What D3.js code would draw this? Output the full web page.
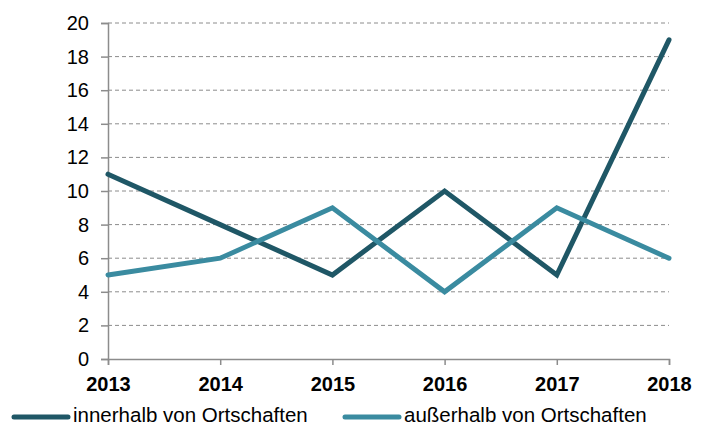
<!DOCTYPE html>
<html>
<head>
<meta charset="utf-8">
<script src="https://cdn.jsdelivr.net/npm/d3@7"></script>
<style>
  body { margin: 0; background: #fff; }
  svg { font-family: "Liberation Sans", Arial, sans-serif; }
</style>
</head>
<body>
<div id="chart"></div>
<script>
var years = ['2013', '2014', '2015', '2016', '2017', '2018'];
var innerhalb = [11, 8, 5, 10, 5, 19];
var ausserhalb = [5, 6, 9, 4, 9, 6];
var yTicks = [0, 2, 4, 6, 8, 10, 12, 14, 16, 18, 20];
var seriesNames = ['innerhalb von Ortschaften', 'außerhalb von Ortschaften'];
var seriesColors = ['#1f5766', '#3a8ba0'];

var width = 708, height = 427;
var svg = d3.select('#chart').append('svg')
  .attr('width', width)
  .attr('height', height);

var x = d3.scalePoint().domain(years).range([108, 669]);
var y = d3.scaleLinear().domain([0, 20]).range([359, 23]);

// gridlines
svg.append('g').selectAll('line').data(yTicks.filter(function (d) { return d > 0; }))
  .enter().append('line')
  .attr('x1', 108).attr('x2', 669)
  .attr('y1', function (d) { return y(d); })
  .attr('y2', function (d) { return y(d); })
  .attr('stroke', '#8c8c8c')
  .attr('stroke-width', 1)
  .attr('stroke-dasharray', '4,3');

// y axis
var yAxis = svg.append('g')
  .attr('transform', 'translate(108,0)')
  .call(d3.axisLeft(y).tickValues(yTicks).tickSize(7).tickPadding(12));
yAxis.selectAll('text')
  .style('font-size', '20px').style('fill', '#000')
  .style('font-family', '"Liberation Sans", Arial, sans-serif');

// x axis
var xAxis = svg.append('g')
  .attr('transform', 'translate(0,359)')
  .call(d3.axisBottom(x).tickSize(6).tickPadding(12));
xAxis.selectAll('text')
  .style('font-size', '20px').style('font-weight', 'bold').style('fill', '#000')
  .style('font-family', '"Liberation Sans", Arial, sans-serif');

svg.selectAll('.domain, .tick line').attr('stroke', '#8c8c8c').attr('stroke-width', 1.5);

var line = d3.line()
  .x(function (d, i) { return x(years[i]); })
  .y(function (d) { return y(d); });

[innerhalb, ausserhalb].forEach(function (s, i) {
  svg.append('path')
    .datum(s)
    .attr('d', line)
    .attr('fill', 'none')
    .attr('stroke', seriesColors[i])
    .attr('stroke-width', 5)
    .attr('stroke-linejoin', 'miter')
    .attr('stroke-linecap', 'round');
});

// legend
var legendX = [14, 345];
var legend = svg.append('g').selectAll('g').data(seriesNames)
  .enter().append('g')
  .attr('transform', function (d, i) { return 'translate(' + legendX[i] + ',417)'; });
legend.append('line')
  .attr('x1', 0).attr('x2', 54)
  .attr('stroke', function (d, i) { return seriesColors[i]; })
  .attr('stroke-width', 5)
  .attr('stroke-linecap', 'round');
legend.append('text')
  .attr('x', 59).attr('y', 5)
  .style('font-size', '20.5px')
  .text(function (d) { return d; });
</script>
</body>
</html>
